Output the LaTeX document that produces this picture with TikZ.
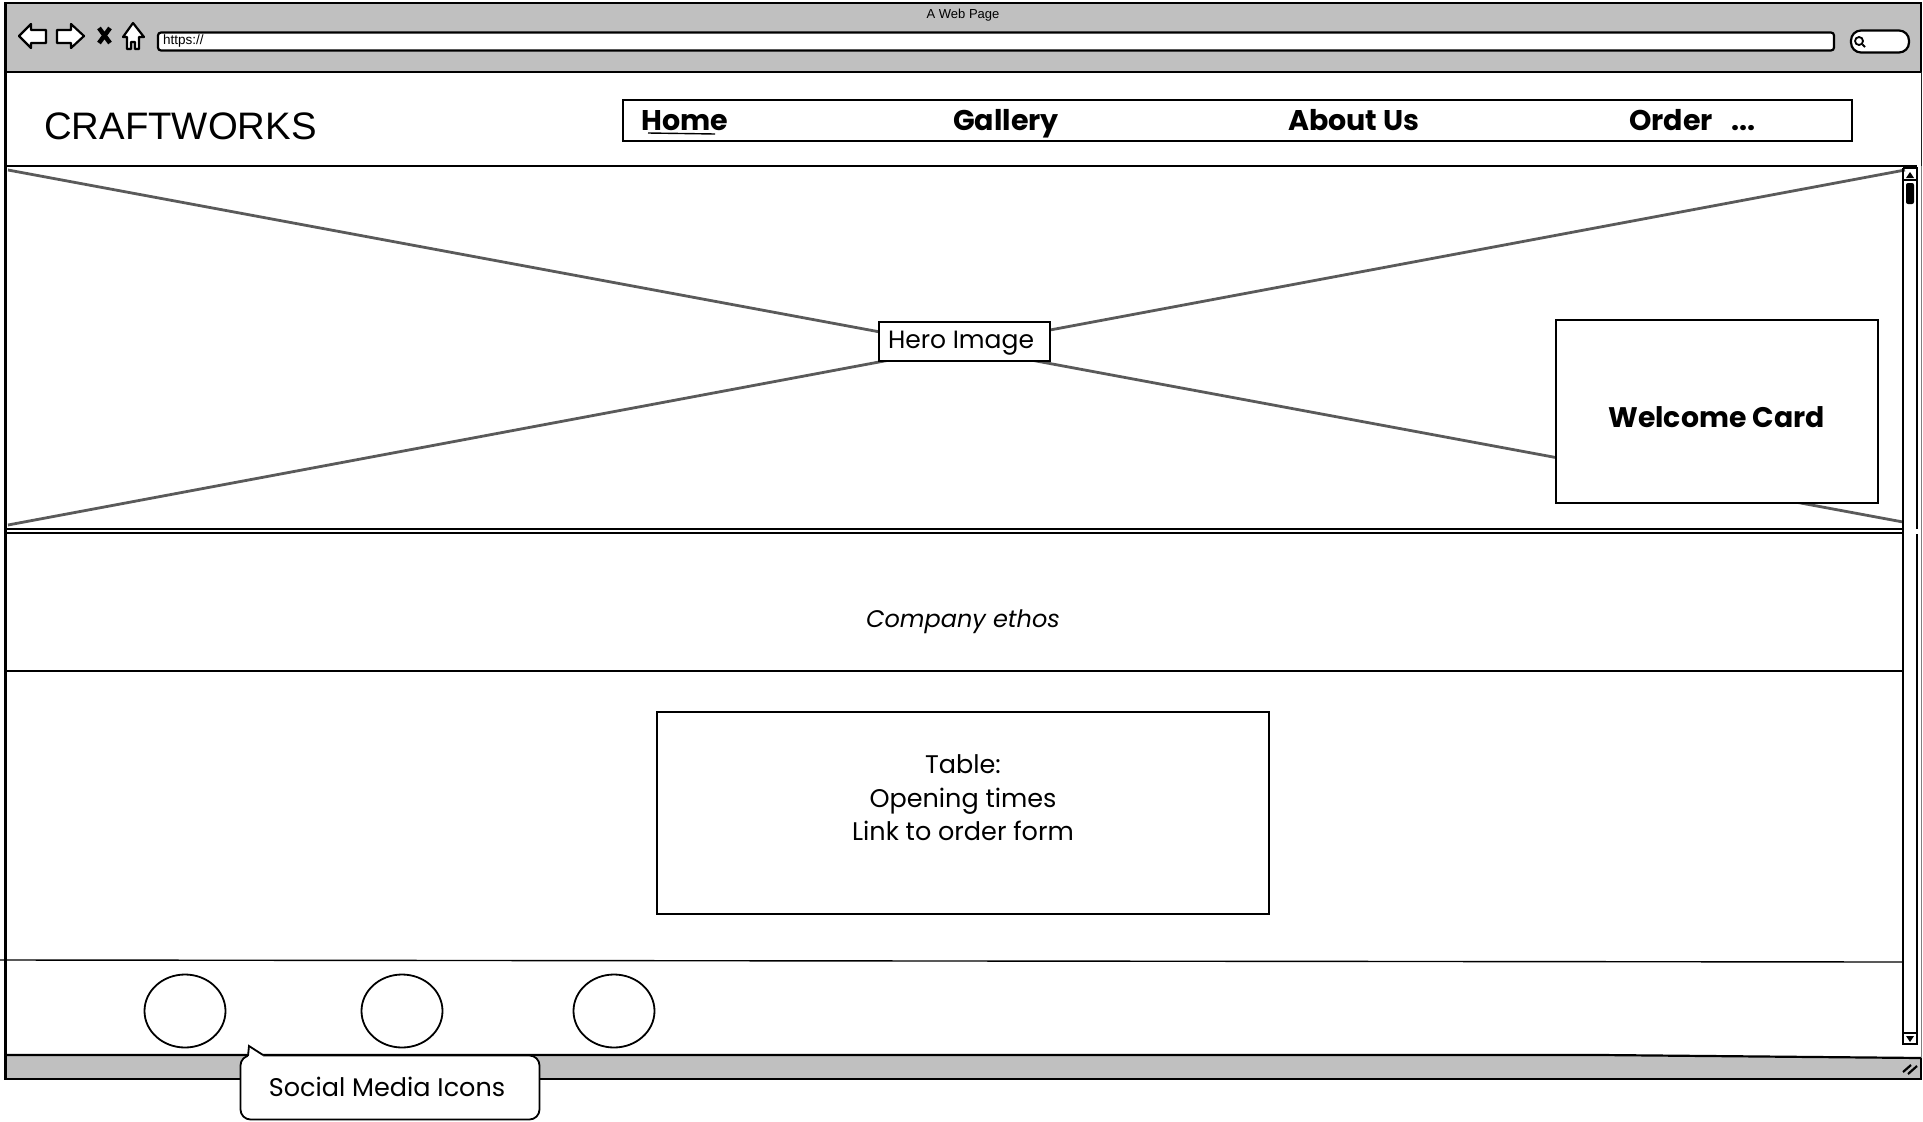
\documentclass[tikz,border=0pt]{standalone}
\usepackage{fontspec}
\setmainfont{Poppins}
\newfontfamily\plainfont{Liberation Sans}
\usetikzlibrary{positioning,calc,shapes.geometric}
\definecolor{barfill}{RGB}{192,192,192}
\definecolor{crossline}{RGB}{90,90,90}

\begin{document}
\begin{tikzpicture}[
  x=1pt, y=-1pt,
  frame/.style={draw=black, line width=2.2pt},
  icon/.style={draw=black, line width=2.2pt, fill=white, line join=round},
  whitebox/.style={draw=black, line width=2pt, fill=white, inner sep=0pt, align=center},
  navlabel/.style={inner sep=0pt, anchor=base west, font=\fontsize{28.5}{34}\selectfont\bfseries},
  bodytext/.style={inner sep=0pt, align=center, font=\fontsize{25.5}{33.5}\selectfont},
  circ/.style={draw=black, line width=1.8pt, fill=white, ellipse, minimum width=81pt, minimum height=73pt},
  callbox/.style={draw=black, line width=1.8pt, fill=white, rounded corners=10pt, inner sep=0pt,
    minimum width=299pt, minimum height=64pt, font=\fontsize{25.5}{33}\selectfont}
]
\useasboundingbox (0,0) rectangle (1923,1122);

% Browser window
\draw[frame, fill=barfill] (5.5,3) rectangle (1921,1079);
\fill[white] (5.5,72) -- (1921,72) -- (1921,1058) -- (1600,1055) -- (5.5,1055) -- cycle;
\draw[frame] (5.5,72) -- (1921,72);
\draw[frame] (5.5,72) -- (5.5,1055);
\draw[frame] (5.5,1055) -- (1600,1055) -- (1921,1058);
\draw[gray, line width=1pt] (1921,166) -- (1921,1058);

\node[inner sep=0pt, font=\plainfont\fontsize{13}{15}\selectfont] (title) at (963,15) {A Web Page};

% Toolbar icons
\draw[icon] (19,36) -- (31,24) -- (31,30) -- (46,30) -- (46,43) -- (31,43) -- (31,48) -- cycle;
\draw[icon] (84,36) -- (71,24) -- (71,30) -- (57,30) -- (57,43) -- (71,43) -- (71,48) -- cycle;
\draw[line width=4.5pt] (99,28) -- (110,43) (110,28) -- (99,43);
\draw[icon] (133,23) -- (144,37) -- (139,37) -- (139,49) -- (135,49) -- (135,42) -- (131,42) -- (131,49) -- (127,49) -- (127,37) -- (123,37) -- cycle;

% Address bar and search
\node[whitebox, line width=2.2pt, rounded corners=3pt, minimum width=1676pt, minimum height=18pt] (address) at (996,41.5) {};
\node[inner sep=0pt, anchor=west, font=\plainfont\fontsize{13.5}{15}\selectfont] (url) at (163,41.5) {https://};
\node[whitebox, line width=2.2pt, rounded corners=10pt, minimum width=58pt, minimum height=22pt] (search) at (1880,41.5) {};
\node[circle, draw=black, line width=1.8pt, inner sep=0pt, minimum size=8pt] (lens) at (1859,41) {};
\coordinate (lensend) at (1865,47);
\draw[line width=2pt] (lens) -- (lensend);

% Header
\node[inner sep=0pt, anchor=west, font=\plainfont\fontsize{38.3}{45}\selectfont] (brand) at (44,126) {CRAFTWORKS};
\node[whitebox, minimum width=1229pt, minimum height=41pt] (nav) at (1237.5,120.5) {};
\node[navlabel] (home) at (641,130) {Home};
\node[navlabel] (gallery) at (953,130) {Gallery};
\node[navlabel] (about) at (1288,130) {About Us};
\node[navlabel] (order) at (1629,130) {Order};
\node[navlabel] (more) at (1731,130) {...};
\coordinate (homea) at (648,133);
\coordinate (homeb) at (715,134);
\draw[line width=1.4pt] (homea) -- (homeb);

% Hero
\draw[frame] (5.5,166) -- (1917,166);
\coordinate (herotl) at (8,170);
\coordinate (herotr) at (1905,170);
\coordinate (herobl) at (8,525);
\coordinate (herobr) at (1903,522);
\draw[crossline, line width=2.8pt] (herotl) -- (herobr);
\draw[crossline, line width=2.8pt] (herotr) -- (herobl);
\node[whitebox, minimum width=171pt, minimum height=39pt] (hero) at (964,341) {};
\node[inner sep=0pt, font=\fontsize{25}{33}\selectfont] (herotext) at (961,343) {Hero Image};
\node[whitebox, minimum width=322pt, minimum height=183pt] (welcome) at (1716.5,411) {};
\node[inner sep=0pt, font=\fontsize{28.3}{34}\selectfont\bfseries] (welcometext) at (1716.5,417) {Welcome Card};
\draw[frame] (5.5,529) -- (1903,529);

% Company ethos
\draw[frame] (5.5,533) -- (1903,533);
\node[bodytext, font=\fontsize{24}{33}\selectfont] (ethos) at (963,622) {\itshape Company ethos};
\draw[frame] (5.5,671) -- (1903,671);

% Table
\node[whitebox, minimum width=612pt, minimum height=202pt] (tablebox) at (962.5,812.5) {};
\node[bodytext] (tabletext) at (963,798) {Table:\\Opening times\\Link to order form};

% Footer
\draw[line width=1.4pt] (0,960) -- (1903,962);
\node[circ] (iconone) at (185,1011) {};
\node[circ] (icontwo) at (402,1011) {};
\node[circ] (iconthree) at (614,1011) {};

% Scrollbar
\draw[frame] (1903,168) -- (1903,1044) -- (1917,1044) -- (1917,534);
\draw[frame] (1917,529) -- (1917,168) -- (1903,168);
\draw[frame] (1903,180) -- (1917,180);
\draw[frame] (1903,1033) -- (1917,1033);
\fill (1910,172) -- (1914,178) -- (1906,178) -- cycle;
\fill (1910,1042) -- (1914,1036) -- (1906,1036) -- cycle;
\fill[rounded corners=2pt] (1906,183) rectangle (1914,204);

% Resize grip
\draw[line width=2.2pt] (1903,1072) -- (1911,1065);
\draw[line width=2.2pt] (1908,1074) -- (1917,1066);

% Callout
\node[callbox] (social) at (390,1087.5) {};
\node[inner sep=0pt, font=\fontsize{25.5}{33}\selectfont] (socialtext) at (387,1087) {Social Media Icons};
\coordinate (calloutleft) at (248,1056);
\coordinate (callouttip) at (249,1046);
\coordinate (calloutright) at (263,1055);
\fill[white] (calloutleft) -- (callouttip) -- (calloutright) -- ($(calloutright)+(0,3)$) -- ($(calloutleft)+(0,3)$) -- cycle;
\draw[line width=1.8pt] (calloutleft) -- (callouttip) -- (calloutright);

\end{tikzpicture}
\end{document}
